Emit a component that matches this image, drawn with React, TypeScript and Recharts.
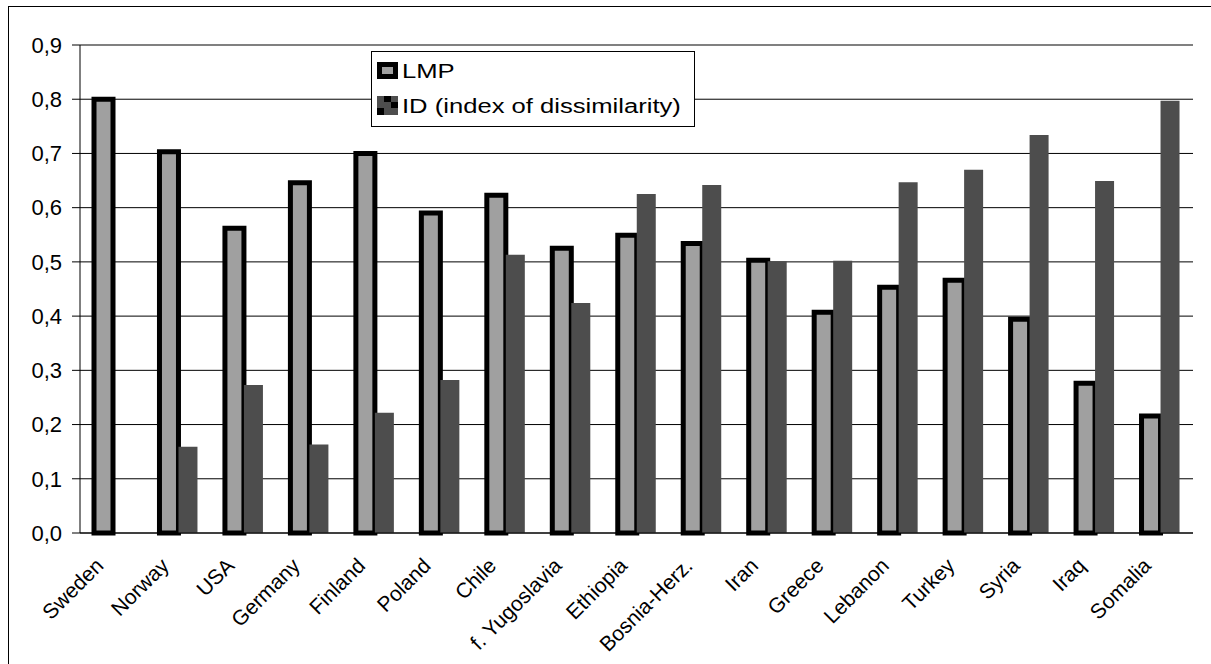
import React from 'react';
import { BarChart, Bar, XAxis, YAxis, CartesianGrid, Legend, ReferenceLine } from 'recharts';

const categories = [
  'Sweden', 'Norway', 'USA', 'Germany', 'Finland', 'Poland', 'Chile', 'f. Yugoslavia', 'Ethiopia',
  'Bosnia-Herz.', 'Iran', 'Greece', 'Lebanon', 'Turkey', 'Syria', 'Iraq', 'Somalia',
];
const lmpValues = [0.8, 0.703, 0.562, 0.646, 0.7, 0.59, 0.623, 0.525, 0.549, 0.534, 0.503, 0.407, 0.453, 0.466, 0.394, 0.276, 0.216];
const idValues = [0, 0.159, 0.273, 0.163, 0.222, 0.282, 0.513, 0.424, 0.625, 0.642, 0.501, 0.502, 0.647, 0.67, 0.734, 0.649, 0.797];
const yTicks = [0, 0.1, 0.2, 0.3, 0.4, 0.5, 0.6, 0.7, 0.8, 0.9];
const boundaryTicks = [0, 1, 2, 3, 4, 5, 6, 7, 8, 9, 10, 11, 12, 13, 14, 15, 16, 17];

const data = categories.map((name, i) => ({ name, lmp: lmpValues[i], id: idValues[i] }));

const FONT = '"Liberation Sans", Arial, sans-serif';
const LMP_FILL = '#a0a0a0';
const ID_FILL = '#4d4d4d';

const CategoryTick = ({ x, y, payload }: any) => (
  <g transform={`translate(${x - 8},${y + 33})`}>
    <text textAnchor="end" transform="rotate(-45)" fontSize={21} fontFamily={FONT} fill="#000">
      {payload.value}
    </text>
  </g>
);

const ChartLegend = () => (
  <svg width={324} height={76} style={{ display: 'block' }}>
    <rect x={0.5} y={0.5} width={323} height={75} fill="#fff" stroke="#000" strokeWidth={1} />
    <rect x={8.5} y={13.5} width={16} height={12} fill={LMP_FILL} stroke="#000" strokeWidth={5} />
    <g transform="translate(31,27) scale(1.22,1)">
      <text fontSize={21} fontFamily={FONT} fill="#000">LMP</text>
    </g>
    <rect x={6} y={45} width={21} height={19} fill={ID_FILL} />
    <rect x={13} y={45} width={7} height={6} fill="#000" />
    <rect x={20} y={51} width={7} height={6} fill="#000" />
    <rect x={6} y={57} width={7} height={7} fill="#000" />
    <g transform="translate(31,62) scale(1.22,1)">
      <text fontSize={21} fontFamily={FONT} fill="#000">ID (index of dissimilarity)</text>
    </g>
  </svg>
);

export default function App() {
  return (
    <div
      style={{
        position: 'fixed',
        left: 8,
        top: 6,
        width: 1215,
        height: 670,
        border: '1px solid #000',
        background: '#fff',
      }}
    >
      <BarChart
        width={1200}
        height={655}
        data={data}
        margin={{ top: 38, right: 16, left: 10, bottom: 8 }}
        barGap={0}
        barSize={19}
      >
        <CartesianGrid xAxisId="b-cat" horizontal vertical={false} stroke="#000" />
        <XAxis
          xAxisId="b-cat"
          dataKey="name"
          interval={0}
          height={120}
          tickLine={false}
          tickSize={0}
          tickMargin={0}
          axisLine={false}
          tick={<CategoryTick />}
        />
        <XAxis
          xAxisId="a-bounds"
          type="number"
          domain={[0, 17]}
          ticks={boundaryTicks}
          interval={0}
          allowDataOverflow
          height={1}
          tick={false}
          tickSize={6}
          tickLine={{ stroke: '#000' }}
          axisLine={{ stroke: '#000' }}
        />
        <YAxis
          domain={[0, 0.9]}
          ticks={yTicks}
          width={61}
          tickSize={8}
          tickMargin={10}
          tickLine={{ stroke: '#000' }}
          axisLine={{ stroke: '#000' }}
          tickFormatter={(v: number) => v.toFixed(1).replace('.', ',')}
          tick={{ fontSize: 22, fontFamily: FONT, fill: '#000' }}
        />
        <ReferenceLine xAxisId="b-cat" y={0.9} stroke="#808080" strokeWidth={2} />
        <ReferenceLine xAxisId="a-bounds" x={17} stroke="#808080" strokeWidth={2} />
        <Legend
          layout="horizontal"
          verticalAlign="middle"
          align="center"
          wrapperStyle={{ left: 362, top: 44, width: 324, height: 76 }}
          content={() => <ChartLegend />}
        />
        <Bar
          xAxisId="b-cat"
          dataKey="lmp"
          name="LMP"
          fill={LMP_FILL}
          stroke="#000"
          strokeWidth={5}
          isAnimationActive={false}
        />
        <Bar xAxisId="b-cat" dataKey="id" name="ID (index of dissimilarity)" fill={ID_FILL} isAnimationActive={false} />
      </BarChart>
    </div>
  );
}
